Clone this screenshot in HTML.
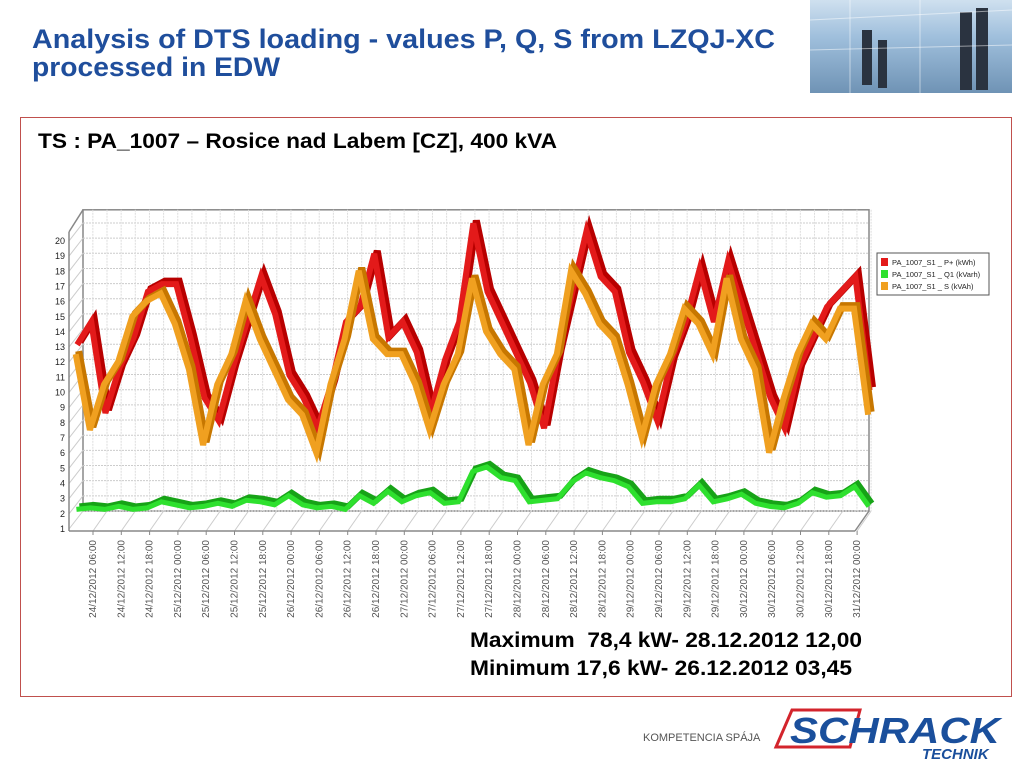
<!DOCTYPE html>
<html><head><meta charset="utf-8">
<style>
body{margin:0;width:1024px;height:768px;background:#fff;position:relative;overflow:hidden;font-family:"Liberation Sans",Arial,sans-serif}
.photo{position:absolute;left:810px;top:0;width:202px;height:93px;background:linear-gradient(180deg,#cfe0ef 0%,#9fbfdc 40%,#6f93b5 100%)}
.frame{position:absolute;left:20px;top:117px;width:992px;height:580px;border:1px solid #c0504d;box-sizing:border-box}
</style></head><body>
<div class="photo">
<svg width="202" height="93"><g fill="#2a3340"><rect x="52" y="30" width="10" height="55"/><rect x="68" y="40" width="9" height="48"/><rect x="150" y="12" width="12" height="78"/><rect x="166" y="8" width="12" height="82"/></g><g stroke="#fff" stroke-opacity="0.5"><line x1="0" y1="20" x2="202" y2="10"/><line x1="0" y1="50" x2="202" y2="45"/><line x1="40" y1="0" x2="40" y2="93"/><line x1="110" y1="0" x2="110" y2="93"/></g></svg></div>
<div class="frame"></div>
<svg style="position:absolute;left:0;top:0" width="1024" height="768" font-family="Liberation Sans, Arial, sans-serif" font-weight="bold">
<g fill="#1f4e9c" font-size="27">
<text x="32" y="48" textLength="743" lengthAdjust="spacingAndGlyphs">Analysis of DTS loading - values P, Q, S from LZQJ-XC</text>
<text x="32" y="76" textLength="248" lengthAdjust="spacingAndGlyphs">processed in EDW</text></g>
<text x="38" y="148" font-size="21" textLength="519" lengthAdjust="spacingAndGlyphs">TS : PA_1007 – Rosice nad Labem [CZ], 400 kVA</text>
<g font-size="21">
<text x="470" y="647" textLength="392" lengthAdjust="spacingAndGlyphs">Maximum&#160; 78,4 kW- 28.12.2012 12,00</text>
<text x="470" y="675" textLength="382" lengthAdjust="spacingAndGlyphs">Minimum 17,6 kW- 26.12.2012 03,45</text></g>
</svg>
<svg id="chart" style="position:absolute;left:0;top:0" width="1024" height="768"></svg>
<div style="position:absolute;left:643px;top:732px;font-size:11px;color:#555">KOMPETENCIA SPÁJA</div>
<svg style="position:absolute;left:770px;top:705px" width="240" height="60">
<polygon points="22,5 90,5 80,42 6,42" fill="none" stroke="#d3242c" stroke-width="3"/>
<text x="20" y="38" font-family="Liberation Sans" font-weight="bold" font-style="italic" font-size="36" fill="#1a4f9c" textLength="210" lengthAdjust="spacingAndGlyphs">SCHRACK</text>
<text x="152" y="54" font-family="Liberation Sans" font-weight="bold" font-style="italic" font-size="15" fill="#1a4f9c">TECHNIK</text>
</svg>
<script>
const yTicks=[1,2,3,4,5,6,7,8,9,10,11,12,13,14,15,16,17,18,19,20];
const xLabels=["24/12/2012 06:00","24/12/2012 12:00","24/12/2012 18:00","25/12/2012 00:00","25/12/2012 06:00","25/12/2012 12:00","25/12/2012 18:00","26/12/2012 00:00","26/12/2012 06:00","26/12/2012 12:00","26/12/2012 18:00","27/12/2012 00:00","27/12/2012 06:00","27/12/2012 12:00","27/12/2012 18:00","28/12/2012 00:00","28/12/2012 06:00","28/12/2012 12:00","28/12/2012 18:00","29/12/2012 00:00","29/12/2012 06:00","29/12/2012 12:00","29/12/2012 18:00","30/12/2012 00:00","30/12/2012 06:00","30/12/2012 12:00","30/12/2012 18:00","31/12/2012 00:00"];
const hours=[1,4,7,10,13,16,19,22,25,28,31,34,37,40,43,46,49,52,55,58,61,64,67,70,73,76,79,82,85,88,91,94,97,100,103,106,109,112,115,118,121,124,127,130,133,136,139,142,145,148,151,154,157,160,163,166,169];
const pValues=[12.5,14,8,11,13,16,16.5,16.5,13,9,7.5,11,14,17,14.5,10.5,9,7,10,14,15,18.5,13,14,12,8,11.5,14,20.5,16,14,12,10,7,12,16,20,17,16,12,10,7.5,11.5,14,17.5,14,18,15,12,9,7,11,13,15,16,17,9.5];
const sValues=[12,7,10,11.5,14.5,15.5,16,14,11,6,10,12,15.5,13,11,9,8,5.5,10,13,17.5,13,12,12,10,7,10,12,17,13.5,12,11,6,10,12,17.5,16,14,13,10,6.5,10,12,15,14,12,17,13,11,5.5,9,12,14,13,15,15,8];
const qValues=[1.7,1.8,1.7,1.9,1.7,1.8,2.2,2,1.8,1.9,2.1,1.9,2.3,2.2,2,2.6,2,1.8,1.9,1.7,2.6,2.1,2.9,2.2,2.6,2.8,2.1,2.2,4.2,4.5,3.8,3.6,2.2,2.3,2.4,3.5,4.1,3.8,3.6,3.2,2.1,2.2,2.2,2.4,3.3,2.2,2.4,2.7,2.1,1.9,1.8,2.1,2.8,2.5,2.6,3.2,1.9];
const legendNames=["PA_1007_S1 _ P+ (kWh)","PA_1007_S1 _ Q1 (kVarh)","PA_1007_S1 _ S (kVAh)"];

const svg=document.getElementById('chart');const NS='http://www.w3.org/2000/svg';
function el(t,a,p){const e=document.createElementNS(NS,t);for(const k in a)e.setAttribute(k,a[k]);(p||svg).appendChild(e);return e;}
const DX=14,DY=-18;
const yS=v=>529-(v-1)*15.16;
const xS=h=>93+(h-6)*28.3/6;
const L=69,R=855;
let g=el('g',{});
el('rect',{x:L+DX,y:yS(21)+DY+2,width:R-L,height:yS(1)-yS(21)-2,fill:'#fff',stroke:'#888','stroke-width':1.5},g);
for(const v of yTicks){let y=yS(v)+DY;el('line',{x1:L+DX,y1:y,x2:R+DX,y2:y,stroke:'#ccc','stroke-dasharray':'2,1'},g);el('line',{x1:L,y1:yS(v),x2:L+DX,y2:y,stroke:'#ccc'},g);}
for(let h=3;h<=170;h+=3){let x=xS(h)+DX;el('line',{x1:x,y1:yS(21)+DY+2,x2:x,y2:yS(1)+DY,stroke:'#ddd','stroke-dasharray':'2,1'},g);}
for(let i=0;i<xLabels.length;i++){let x=xS(6+i*6);el('line',{x1:x,y1:yS(1)+2,x2:x+DX,y2:yS(1)+DY,stroke:'#ccc'},g);}
el('polyline',{points:`${L},${yS(20.6)} ${L+DX},${yS(21)+DY+2}`,fill:'none',stroke:'#888','stroke-width':1.5},g);
el('line',{x1:L,y1:yS(20.6),x2:L,y2:yS(1)+2,stroke:'#888','stroke-width':1.5},g);
el('line',{x1:L,y1:yS(1)+2,x2:R,y2:yS(1)+2,stroke:'#888','stroke-width':1.5},g);
el('line',{x1:R,y1:yS(1)+2,x2:R+DX,y2:yS(1)+DY,stroke:'#888','stroke-width':1.5},g);
for(const v of yTicks){const t=el('text',{x:L-4,y:yS(v)+3,'text-anchor':'end','font-size':9,fill:'#222'});t.textContent=v;
}
xLabels.forEach((s,i)=>{const x=xS(6+i*6);el('line',{x1:x,y1:yS(1)+2,x2:x,y2:yS(1)+6,stroke:'#888'});
const t=el('text',{x:0,y:0,'text-anchor':'end','font-size':10,fill:'#555',transform:`translate(${x+3},${540}) rotate(-90)`});t.textContent=s;
});
function ribbon(vals,dark,light,name,depth,w){
 const pts=vals.map((v,i)=>[xS(hours[i])+depth*DX,yS(v)+depth*DY]);
 const s=el('g',{});
 el('polyline',{points:pts.map(p=>`${p[0]+3},${p[1]-3}`).join(' '),fill:'none',stroke:dark,'stroke-width':w,'stroke-linejoin':'miter'},s);
 el('polyline',{points:pts.map(p=>`${p[0]},${p[1]}`).join(' '),fill:'none',stroke:light,'stroke-width':w-1,'stroke-linejoin':'miter'},s);
}
ribbon(pValues,'#b80000','#e31a1a','series-p',0.55,7);
ribbon(sValues,'#c77700','#f0a020','series-s',0.45,7);
ribbon(qValues,'#17a317','#2ee02e','series-q',0.5,6);
const lg=el('g',{});
el('rect',{x:877,y:253,width:112,height:42,fill:'#fff',stroke:'#555'},lg);
const cols=['#e31a1a','#2ee02e','#f0a020'];
legendNames.forEach((n,i)=>{const y=258+i*12;
const r=el('rect',{x:881,y:y,width:7,height:8,fill:cols[i]},lg);
const t=el('text',{x:892,y:y+7,'font-size':7.5,fill:'#222'},lg);t.textContent=n;});
</script>
</body></html>
